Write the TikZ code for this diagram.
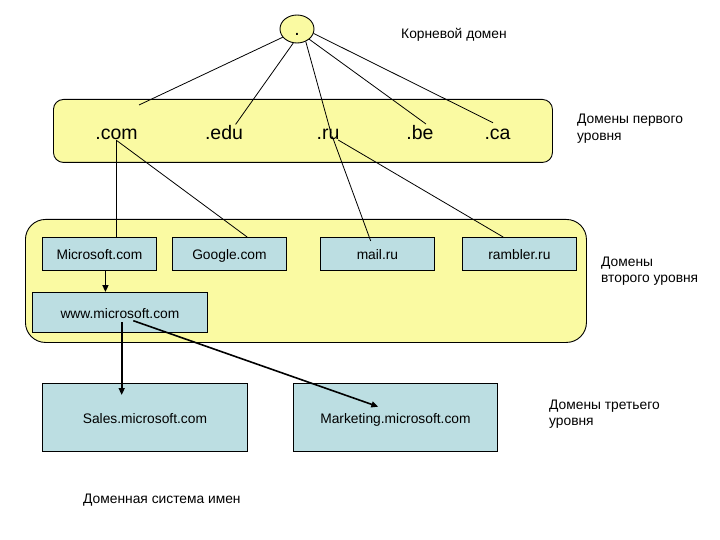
\documentclass[tikz,border=0pt]{standalone}
\usepackage{fontspec}
\setmainfont{Liberation Sans}
\usetikzlibrary{shapes.geometric,arrows.meta}
\definecolor{yel}{RGB}{250,250,162}
\definecolor{blu}{RGB}{188,222,226}
\begin{document}
\begin{tikzpicture}[x=1pt,y=-1pt,
  thinline/.style={draw=black,line width=0.8pt},
  tld/.style={font=\fontsize{19.5}{22}\selectfont, inner sep=0pt, anchor=base},
  yelbox/.style={draw=black, line width=0.9pt, fill=yel, inner sep=0pt, anchor=north west},
  bluebox/.style={draw=black, line width=0.9pt, fill=blu, font=\fontsize{13.8}{16}\selectfont, inner sep=0pt, anchor=north west, text height=12.5pt, text depth=0.5pt},
  lbl/.style={font=\fontsize{13.8}{16.5}\selectfont, inner sep=0pt, anchor=base west},
  arr/.style={line width=1.6pt, -{Triangle[length=7pt,width=6pt]}},
  ]
\useasboundingbox (0,0) rectangle (720,540);
\fill[white] (0,0) rectangle (720,540);

% level containers
\node[yelbox, rounded corners=10pt, minimum width=499pt, minimum height=63pt] (lvl1) at (53,99) {};
\node[yelbox, rounded corners=20pt, minimum width=561pt, minimum height=123pt] (lvl2) at (25,219) {};

% root
\node[ellipse, draw=black, line width=0.9pt, fill=yel, minimum width=34pt, minimum height=28pt,
      inner sep=0pt, text height=13pt, text depth=0pt, font=\fontsize{19.5}{22}\selectfont] (root) at (297,29) {.};
\node[lbl] (rootlbl) at (401,38.3) {Корневой домен};

% top level domains
\node[tld] (com) at (116.5,140) {.com};
\node[tld] (edu) at (224,140) {.edu};
\node[tld] (ru)  at (328,140) {.ru};
\node[tld] (be)  at (420,140) {.be};
\node[tld] (ca)  at (497.5,140) {.ca};

% second level
\node[bluebox, minimum width=114pt, minimum height=33pt] (ms)      at (42,237)  {Microsoft.com};
\node[bluebox, minimum width=114pt, minimum height=33pt] (google)  at (172,237) {Google.com};
\node[bluebox, minimum width=114pt, minimum height=33pt] (mail)    at (320,237) {mail.ru};
\node[bluebox, minimum width=114pt, minimum height=33pt] (rambler) at (462,237) {rambler.ru};
\node[bluebox, minimum width=175pt, minimum height=40pt] (www)     at (32,292)  {www.microsoft.com};

% third level
\node[bluebox, minimum width=205pt, minimum height=68pt] (sales) at (42,383)  {Sales.microsoft.com};
\node[bluebox, minimum width=204pt, minimum height=68pt] (mkt)   at (293,383) {Marketing.microsoft.com};

% side labels
\node[lbl] (l1a) at (577,124)   {Домены первого};
\node[lbl] (l1b) at (577,140.7) {уровня};
\node[lbl] (l2a) at (601,266.3) {Домены};
\node[lbl] (l2b) at (601,282.3) {второго уровня};
\node[lbl] (l3a) at (549,409.5) {Домены третьего};
\node[lbl] (l3b) at (549,425.5) {уровня};
\node[lbl] (cap) at (83,503)    {Доменная система имен};

% free ends
\coordinate (ecom) at (139,105);
\coordinate (eedu) at (235.6,124.4);
\coordinate (eru)  at (331,133);
\coordinate (ebe)  at (426,124);
\coordinate (eca)  at (493,122.7);
\coordinate (rumail) at (332.3,136.5);
\coordinate (rurmb)  at (338.2,140);
\coordinate (email)  at (370.7,241);
\coordinate (wwws)   at (121.7,322);
\coordinate (tsales) at (121.7,395);
\coordinate (wwwm)   at (133.3,320.7);
\coordinate (tmkt)   at (378.3,406.7);

% root connectors
\draw[thinline] (root.-150) -- (ecom);
\draw[thinline] (root.-105) -- (eedu);
\draw[thinline] (root.-55)  -- (eru);
\draw[thinline] (root.-40)  -- (ebe);
\draw[thinline] (root.-15)  -- (eca);

% tld to second level
\draw[thinline] (com.south) -- (com.south |- ms.north);
\draw[thinline] (com.south) -- ([xshift=17.7pt]google.north);
\draw[thinline] (rumail) -- (email);
\draw[thinline] (rurmb) -- ([xshift=-16.3pt]rambler.north);

% arrows
\draw[arr] ([xshift=6pt]ms.south) -- ([xshift=6pt]ms.south |- www.north);
\draw[arr] (wwws) -- (tsales);
\draw[arr] (wwwm) -- (tmkt);
\end{tikzpicture}
\end{document}
